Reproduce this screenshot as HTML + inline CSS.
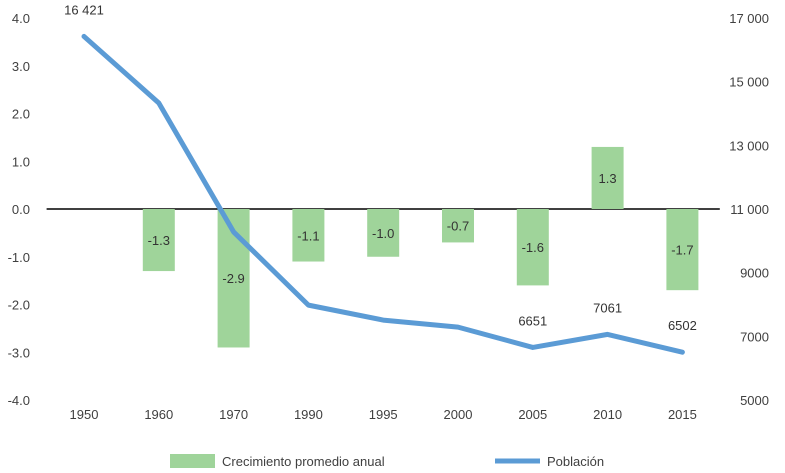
<!DOCTYPE html>
<html><head><meta charset="utf-8"><style>
html,body{margin:0;padding:0;background:#fff;}
svg{display:block;font-family:"Liberation Sans",sans-serif;}
</style></head><body>
<svg id="chart" width="785" height="473" viewBox="0 0 785 473">
<g id="axes"></g><g id="bars"></g><g id="line"></g><g id="labels"></g>
<g>
<rect x="170" y="454" width="45" height="14" fill="#9fd49a"/>
<text x="222" y="466" font-size="13" fill="#404040">Crecimiento promedio anual</text>
<line x1="495" y1="461" x2="540" y2="461" stroke="#5b9bd5" stroke-width="5"/>
<text x="547" y="466" font-size="13" fill="#404040">Población</text>
</g>
</svg>
<script>
const categories=["1950","1960","1970","1990","1995","2000","2005","2010","2015"];
const growth=[null,-1.3,-2.9,-1.1,-1.0,-0.7,-1.6,1.3,-1.7];
const population=[16421,14330,10280,7980,7510,7290,6651,7061,6502];
const popLabels=["16 421","","","","","","6651","7061","6502"];
const leftTicks=["4.0","3.0","2.0","1.0","0.0","-1.0","-2.0","-3.0","-4.0"];
const rightTicks=["17 000","15 000","13 000","11 000","9000","7000","5000"];
const rightVals=[17000,15000,13000,11000,9000,7000,5000];

const NS="http://www.w3.org/2000/svg";
const L=46.6,R=719.8,T=18,B=400;
const band=(R-L)/categories.length;
const xc=i=>L+band*(i+0.5);
const yL=v=>T+(4-v)/8*(B-T);
const yR=v=>T+(17000-v)/12000*(B-T);
function mk(tag,attrs,parent,text){const e=document.createElementNS(NS,tag);for(const k in attrs)e.setAttribute(k,attrs[k]);if(text!==undefined)e.textContent=text;document.getElementById(parent).appendChild(e);return e;}

leftTicks.forEach((t,i)=>{
  const e=mk("text",{x:30,y:yL(parseFloat(t))+5,"font-size":13,fill:"#404040","text-anchor":"end"},"axes",t);
  
  
});
rightTicks.forEach((t,i)=>{
  const e=mk("text",{x:769,y:yR(rightVals[i])+5,"font-size":13,fill:"#404040","text-anchor":"end"},"axes",t);
  
  
});
categories.forEach((c,i)=>{
  const e=mk("text",{x:xc(i),y:419,"font-size":13,fill:"#404040","text-anchor":"middle"},"axes",c);
  
  
});
growth.forEach((v,i)=>{
  if(v===null)return;
  const y0=yL(0),y1=yL(v);
  const r=mk("rect",{x:xc(i)-16,y:Math.min(y0,y1),width:32,height:Math.abs(y1-y0),fill:"#9fd49a"},"bars");
  
  
  const t=mk("text",{x:xc(i),y:(y0+y1)/2+5,"font-size":13,fill:"#333","text-anchor":"middle"},"labels",v.toFixed(1));
  
  
});
const zero=mk("line",{x1:L,x2:R,y1:yL(0),y2:yL(0),stroke:"#000","stroke-width":1.5},"axes");


const pts=population.map((v,i)=>xc(i)+","+yR(v)).join(" ");
const pl=mk("polyline",{points:pts,fill:"none",stroke:"#5b9bd5","stroke-width":5,"stroke-linejoin":"round","stroke-linecap":"round"},"line");


population.forEach((v,i)=>{
  if(!popLabels[i])return;
  const t=mk("text",{x:xc(i),y:yR(v)-22,"font-size":13,fill:"#333","text-anchor":"middle"},"labels",popLabels[i]);
  
  
});
</script>
</body></html>
